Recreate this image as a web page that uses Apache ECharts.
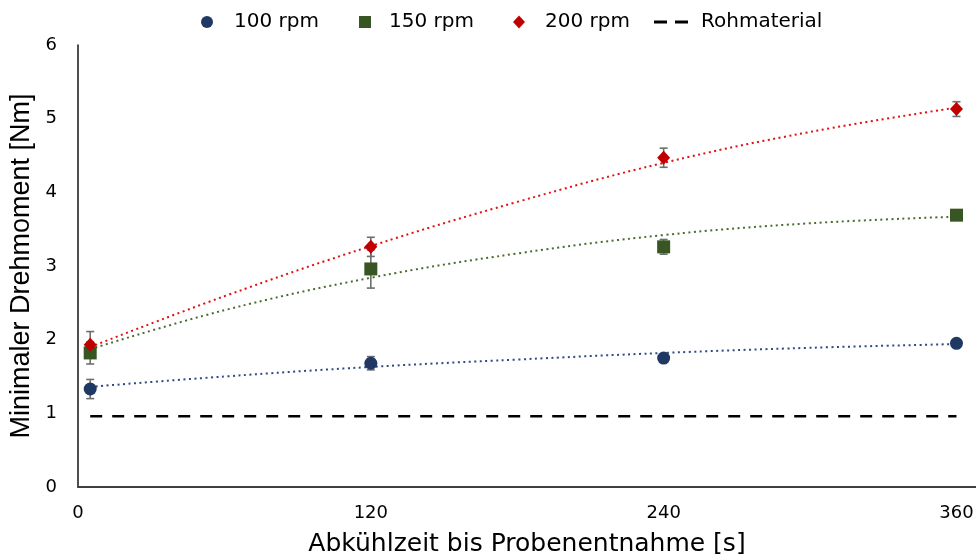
<!DOCTYPE html>
<html><head><meta charset="utf-8">
<script src="https://cdn.jsdelivr.net/npm/echarts@6/dist/echarts.min.js"></script>
<style>html,body{margin:0;padding:0;background:#fff}#c{width:976px;height:559px}</style>
</head><body><div id="c"></div>
<script>
// ---- data ----
const xValues = [5, 120, 240, 360];
const rpm100 = [1.33, 1.68, 1.75, 1.95];
const rpm100Err = [0.13, 0.09, 0.04, 0.04];
const rpm150 = [1.82, 2.96, 3.26, 3.69];
const rpm150Err = [0.15, 0.26, 0.10, 0.06];
const rpm200 = [1.93, 3.26, 4.47, 5.13];
const rpm200Err = [0.18, 0.13, 0.13, 0.10];
const rohX = [5, 360];
const rohValues = [0.96, 0.96];
const trendX = [5, 60, 120, 180, 240, 300, 360];
const trend100 = [1.36, 1.50, 1.63, 1.73, 1.82, 1.89, 1.94];
const trend150 = [1.87, 2.40, 2.84, 3.17, 3.42, 3.58, 3.67];
const trend200 = [1.90, 2.59, 3.27, 3.87, 4.40, 4.82, 5.15];
const xTicks = [0, 120, 240, 360];
const seriesNames = ['100 rpm', '150 rpm', '200 rpm', 'Rohmaterial'];
const colors = ['#1F3864', '#375623', '#C00000', '#000000'];

// ---- helpers ----
const pairs = (xs, ys) => xs.map((x, i) => [x, ys[i]]);
const errData = (ys, es) => xValues.map((x, i) => [x, ys[i] - es[i], ys[i] + es[i]]);
function errRender(params, api) {
  const x = api.value(0), lo = api.value(1), hi = api.value(2);
  const pLo = api.coord([x, lo]), pHi = api.coord([x, hi]);
  const cw = 4;
  const style = { stroke: '#6E6E6E', lineWidth: 1.6 };
  return { type: 'group', children: [
    { type: 'line', shape: { x1: pLo[0], y1: pLo[1], x2: pHi[0], y2: pHi[1] }, style },
    { type: 'line', shape: { x1: pLo[0] - cw, y1: pLo[1], x2: pLo[0] + cw, y2: pLo[1] }, style },
    { type: 'line', shape: { x1: pHi[0] - cw, y1: pHi[1], x2: pHi[0] + cw, y2: pHi[1] }, style }
  ]};
}
const font = 'DejaVu Sans';
function legendFor(i, left, pad, w, h, icon) {
  const item = icon ? { name: seriesNames[i], icon: icon } : seriesNames[i];
  return {
    data: [item], left: left, top: 12, padding: 0,
    itemWidth: w, itemHeight: h,
    textStyle: { fontFamily: font, fontSize: 20, color: '#000', padding: [0, 0, 0, pad] }
  };
}
const trendSeries = (data, color) => ({
  type: 'line', data: pairs(trendX, data), smooth: 0.4, symbol: 'none', silent: true, z: 1,
  lineStyle: { color: color, width: 2, type: [2, 3.5] }
});

const chart = echarts.init(document.getElementById('c'), null, { renderer: 'canvas' });
chart.setOption({
  animation: false,
  backgroundColor: '#fff',
  grid: { left: 78, right: 0, top: 45, bottom: 72, containLabel: false, outerBoundsMode: 'none' },
  legend: [
    legendFor(0, 201, 16, 12, 12),
    legendFor(1, 359, 13, 12, 12),
    legendFor(2, 513, 15, 12, 13),
    legendFor(3, 654, 8, 34, 3, 'path://M0,0h13v3h-13z M21,0h13v3h-13z')
  ],
  xAxis: {
    type: 'value', min: 0, max: 368, interval: 120,
    name: 'Abkühlzeit bis Probenentnahme [s]', nameLocation: 'middle', nameGap: 45,
    nameTextStyle: { fontFamily: font, fontSize: 25, color: '#000' },
    axisLine: { show: true, onZero: false, lineStyle: { color: '#404040', width: 2 } },
    axisTick: { show: false }, splitLine: { show: false },
    axisLabel: { margin: 17, fontFamily: font, fontSize: 18, color: '#000',
      formatter: v => xTicks.includes(v) ? String(v) : '' }
  },
  yAxis: {
    type: 'value', min: 0, max: 6, interval: 1,
    name: 'Minimaler Drehmoment [Nm]', nameLocation: 'middle', nameGap: 42,
    nameTextStyle: { fontFamily: 'Liberation Sans', fontSize: 27, color: '#000' },
    axisLine: { show: true, lineStyle: { color: '#222', width: 1.6 } },
    axisTick: { show: false }, splitLine: { show: false },
    axisLabel: { margin: 21, fontFamily: font, fontSize: 18, color: '#000' }
  },
  series: [
    { name: seriesNames[0], type: 'scatter', data: pairs(xValues, rpm100), symbol: 'circle', symbolSize: 13, z: 4, itemStyle: { color: colors[0], opacity: 1 } },
    { name: seriesNames[1], type: 'scatter', data: pairs(xValues, rpm150), symbol: 'rect', symbolSize: 13, z: 4, itemStyle: { color: colors[1], opacity: 1 } },
    { name: seriesNames[2], type: 'scatter', data: pairs(xValues, rpm200), symbol: 'diamond', symbolSize: [13, 14], z: 5, itemStyle: { color: colors[2], opacity: 1 } },
    { name: seriesNames[3], type: 'line', data: pairs(rohX, rohValues), symbol: 'none', z: 2,
      lineStyle: { color: colors[3], width: 2.5, type: [12, 10] }, itemStyle: { color: colors[3] } },
    trendSeries(trend100, '#2E4A82'),
    trendSeries(trend150, '#4A6B2E'),
    trendSeries(trend200, '#E01010'),
    { type: 'custom', renderItem: errRender, data: errData(rpm100, rpm100Err), encode: { x: 0, y: [1, 2] }, z: 3, silent: true },
    { type: 'custom', renderItem: errRender, data: errData(rpm150, rpm150Err), encode: { x: 0, y: [1, 2] }, z: 3, silent: true },
    { type: 'custom', renderItem: errRender, data: errData(rpm200, rpm200Err), encode: { x: 0, y: [1, 2] }, z: 3, silent: true }
  ]
});
</script></body></html>
